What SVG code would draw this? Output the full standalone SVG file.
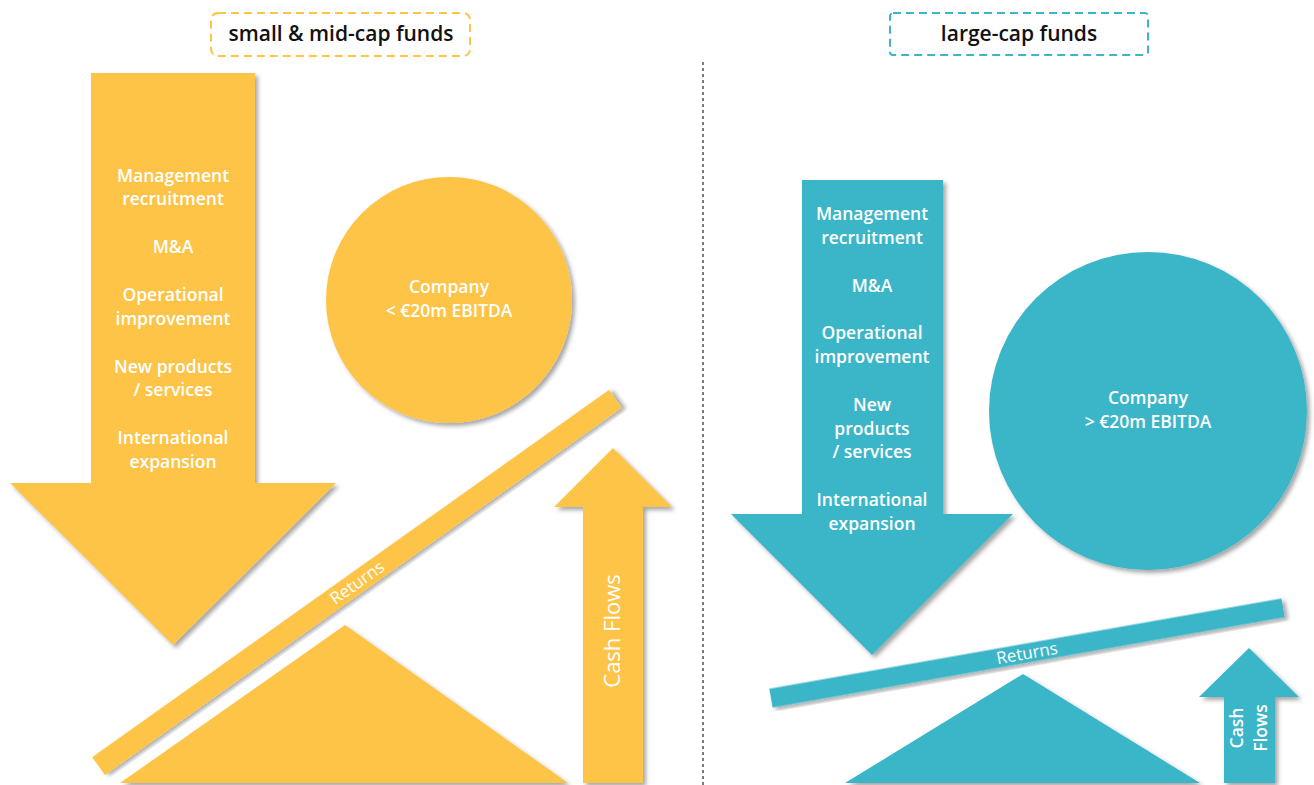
<svg xmlns="http://www.w3.org/2000/svg" width="1314" height="785" viewBox="0 0 1314 785">
  <defs>
    <filter id="shadow" x="-20%" y="-20%" width="140%" height="140%">
      <feDropShadow dx="3" dy="3" stdDeviation="2" flood-color="#000" flood-opacity="0.35"/>
    </filter>
  </defs>
  <style>
    .yel { fill: #FDC447; }
    .cyn { fill: #3BB6C8; }
    .sh { filter: url(#shadow); }
    .hdr { font-family: "Open Sans", Lato, sans-serif; font-size: 21px; font-weight: 600; fill: #111; text-anchor: middle; }
    .box { fill: none; stroke-width: 2; stroke-dasharray: 8 5; }
    .lst { font-family: "Open Sans", Lato, sans-serif; font-size: 17.5px; font-weight: 600; fill: #fff; text-anchor: middle; }
    .cmp { font-family: "Open Sans", Lato, sans-serif; font-size: 17.5px; font-weight: 600; fill: #fff; text-anchor: middle; }
    .rot { font-family: "Open Sans", Lato, sans-serif; font-size: 17px; fill: #fff; text-anchor: middle; }
    .cf { font-family: "Open Sans", Lato, sans-serif; font-size: 22px; fill: #fff; text-anchor: middle; }
  </style>

  <rect width="1314" height="785" fill="#fff"/>

  <!-- panel divider -->
  <line x1="703" y1="62" x2="703" y2="785" stroke="#222" stroke-width="1.2" stroke-dasharray="3 3"/>

  <!-- headers -->
  <g id="hdr-small">
    <rect class="box" x="211" y="13" width="259" height="43" rx="7" stroke="#FDC447"/>
    <text class="hdr" x="341" y="41">small &amp; mid-cap funds</text>
  </g>
  <g id="hdr-large">
    <rect class="box" x="890" y="13" width="258" height="42" rx="3" stroke="#3BB6C8"/>
    <text class="hdr" x="1019" y="41">large-cap funds</text>
  </g>

  <!-- small & mid-cap side -->
  <g id="lever-small">
    <polygon class="yel sh" points="91,73 255,73 255,483 336,483 173,645 10,483 91,483"/>
    <text class="lst" x="173" y="182">Management</text>
    <text class="lst" x="173" y="205">recruitment</text>
    <text class="lst" x="173" y="253">M&amp;A</text>
    <text class="lst" x="173" y="301">Operational</text>
    <text class="lst" x="173" y="325">improvement</text>
    <text class="lst" x="173" y="373">New products</text>
    <text class="lst" x="173" y="396">/ services</text>
    <text class="lst" x="173" y="444">International</text>
    <text class="lst" x="173" y="468">expansion</text>
  </g>

  <g id="company-small">
    <circle class="yel sh" cx="449" cy="300" r="123"/>
    <text class="cmp" x="449" y="293">Company</text>
    <text class="cmp" x="449" y="317">&lt; €20m EBITDA</text>
  </g>

  <g id="returns-small" transform="translate(357,582.5) rotate(-35.4)">
    <rect class="yel sh" x="-317" y="-11" width="634" height="22"/>
    <text class="rot" x="0" y="6">Returns</text>
  </g>

  <g id="fulcrum-small">
    <polygon class="yel sh" points="345,625 568,783 120,783"/>
  </g>

  <g id="cashflow-small">
    <polygon class="yel sh" points="613,448 672,507 643,507 643,783 583,783 583,507 554,507"/>
    <text class="cf" x="0" y="0" transform="translate(620,631) rotate(-90)">Cash Flows</text>
  </g>

  <!-- large-cap side -->
  <g id="lever-large">
    <polygon class="cyn sh" points="802,180 943,180 943,514 1013,514 872,655 731,514 802,514"/>
    <text class="lst" x="872" y="220">Management</text>
    <text class="lst" x="872" y="244">recruitment</text>
    <text class="lst" x="872" y="292">M&amp;A</text>
    <text class="lst" x="872" y="339">Operational</text>
    <text class="lst" x="872" y="363">improvement</text>
    <text class="lst" x="872" y="411">New</text>
    <text class="lst" x="872" y="435">products</text>
    <text class="lst" x="872" y="458">/ services</text>
    <text class="lst" x="872" y="506">International</text>
    <text class="lst" x="872" y="530">expansion</text>
  </g>

  <g id="company-large">
    <circle class="cyn sh" cx="1148" cy="411" r="159"/>
    <text class="cmp" x="1148" y="404">Company</text>
    <text class="cmp" x="1148" y="428">&gt; €20m EBITDA</text>
  </g>

  <g id="returns-large" transform="translate(1027,653) rotate(-10)">
    <rect class="cyn sh" x="-260" y="-9.5" width="520" height="19"/>
    <text class="rot" x="0" y="6">Returns</text>
  </g>

  <g id="fulcrum-large">
    <polygon class="cyn sh" points="1023,674 1200,783 845,783"/>
  </g>

  <g id="cashflow-large">
    <polygon class="cyn sh" points="1249,648 1299,697 1275,697 1275,783 1224,783 1224,697 1199,697"/>
    <text class="lst" transform="translate(1243,728) rotate(-90)">Cash</text>
    <text class="lst" transform="translate(1267,728) rotate(-90)">Flows</text>
  </g>
</svg>
